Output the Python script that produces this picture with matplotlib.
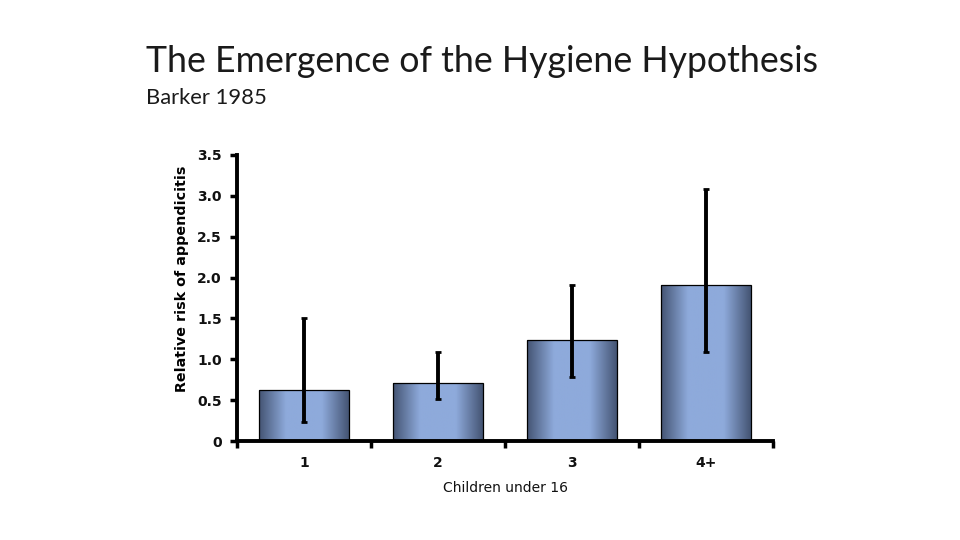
import numpy as np
import matplotlib
matplotlib.use("Agg")
import matplotlib.pyplot as plt
from matplotlib.colors import LinearSegmentedColormap

categories = ["1", "2", "3", "4+"]
values = [0.62, 0.71, 1.24, 1.91]
err_low = [0.23, 0.51, 0.78, 1.09]
err_high = [1.51, 1.09, 1.91, 3.08]
yticks = [0, 0.5, 1.0, 1.5, 2.0, 2.5, 3.0, 3.5]
ytick_labels = ["0", "0.5", "1.0", "1.5", "2.0", "2.5", "3.0", "3.5"]

fig = plt.figure(figsize=(9.6, 5.4), dpi=100)
fig.patch.set_facecolor("white")
ax = fig.add_axes([0.2469, 0.1833, 0.5583, 0.5297])

x = np.arange(1, len(categories) + 1)
bars = ax.bar(x, values, width=0.67, color="none", edgecolor="black", linewidth=0.9, zorder=3)

cmap = LinearSegmentedColormap.from_list(
    "g", [(0, "#445473"), (0.3, "#8eaadb"), (0.7, "#8eaadb"), (1, "#445473")])
grad = np.linspace(0, 1, 256).reshape(1, -1)
for b in bars:
    x0, w, h = b.get_x(), b.get_width(), b.get_height()
    im = ax.imshow(grad, cmap=cmap, aspect="auto", extent=[x0, x0 + w, 0, h], zorder=2)
    im.set_clip_path(b)

yerr = [np.array(values) - np.array(err_low), np.array(err_high) - np.array(values)]
ax.errorbar(x, values, yerr=yerr, fmt="none", ecolor="black", elinewidth=2.8,
            capsize=2.5, capthick=2.0, zorder=4)

ax.set_xlim(0.5, len(categories) + 0.5)
ax.set_ylim(0, 3.5)
ax.set_yticks(yticks)
ax.set_yticklabels(ytick_labels)
ax.set_xticks(x)
ax.set_xticklabels(categories)
ax.set_xticks(np.arange(0.5, len(categories) + 1, 1.0), minor=True)
ax.tick_params(axis="x", which="major", length=0, pad=11)
ax.tick_params(axis="x", which="minor", length=5, width=2.5, direction="out")
ax.tick_params(axis="y", length=5, width=2.5, direction="out", pad=6)
for lab in ax.get_xticklabels() + ax.get_yticklabels():
    lab.set_fontweight("bold")
    lab.set_fontsize(10)
    lab.set_color("#111111")

for s in ["top", "right"]:
    ax.spines[s].set_visible(False)
for s in ["left", "bottom"]:
    ax.spines[s].set_linewidth(2.8)

ax.set_ylabel("Relative risk of appendicitis", fontsize=10.3, fontweight="bold")
ax.yaxis.set_label_coords(-0.09, 0.566)
ax.set_xlabel("Children under 16", fontsize=10, labelpad=8, color="#111111")

fig.text(146 / 960, 1 - 62 / 540, "The Emergence of the Hygiene Hypothesis",
         fontsize=25.7, family="Lato", fontweight="normal", va="center", ha="left", color="#1a1a1a")
fig.text(146 / 960, 1 - 98 / 540, "Barker 1985",
         fontsize=15.8, family="Lato", fontweight="normal", va="center", ha="left", color="#1a1a1a")

fig.savefig("out.png", dpi=100)
